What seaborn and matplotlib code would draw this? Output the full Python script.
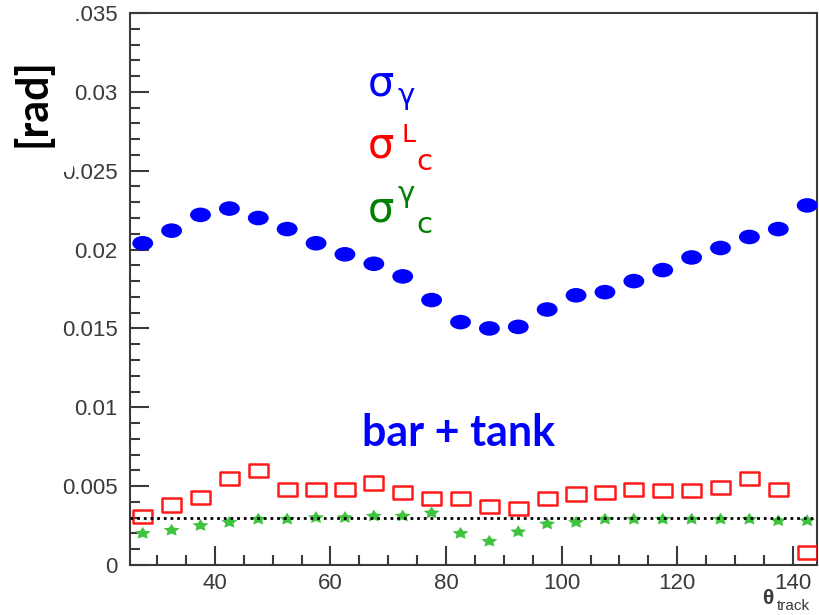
import numpy as np
import pandas as pd
import matplotlib
matplotlib.use("Agg")
import matplotlib.pyplot as plt
import seaborn as sns
from matplotlib.path import Path
from matplotlib.transforms import Affine2D
from matplotlib.patches import Rectangle
from matplotlib.ticker import MultipleLocator, FixedLocator, FixedFormatter

# ---------------- data ----------------
theta = [27.5, 32.5, 37.5, 42.5, 47.5, 52.5, 57.5, 62.5, 67.5, 72.5, 77.5, 82.5,
         87.5, 92.5, 97.5, 102.5, 107.5, 112.5, 117.5, 122.5, 127.5, 132.5, 137.5, 142.5]
sigma_gamma = [0.0204, 0.0212, 0.0222, 0.0226, 0.0220, 0.0213, 0.0204, 0.0197,
               0.0191, 0.0183, 0.0168, 0.0154, 0.0150, 0.0151, 0.0162, 0.0171,
               0.0173, 0.0180, 0.0187, 0.0195, 0.0201, 0.0208, 0.0213, 0.0228]
sigma_c_L = [0.0031, 0.0038, 0.0043, 0.0055, 0.0060, 0.0048, 0.0048, 0.0048,
             0.0052, 0.0046, 0.0042, 0.0042, 0.0037, 0.0036, 0.0042, 0.0045,
             0.0046, 0.0048, 0.0047, 0.0047, 0.0049, 0.0055, 0.0048, 0.0008]
sigma_c_gamma = [0.0020, 0.0022, 0.0025, 0.0027, 0.0029, 0.0029, 0.0030, 0.0030,
                 0.0031, 0.0031, 0.0033, 0.0020, 0.0015, 0.0021, 0.0026, 0.0027,
                 0.0029, 0.0029, 0.0029, 0.0029, 0.0029, 0.0029, 0.0028, 0.0028]
ref_level = 0.003
y_ticks = [0, 0.005, 0.01, 0.015, 0.02, 0.025, 0.03, 0.035]
y_tick_labels = ["0", "0.005", "0.01", "0.015", "0.02", "0.025", "0.03", "0.035"]
x_ticks = [40, 60, 80, 100, 120, 140]
x_tick_labels = ["40", "60", "80", "100", "120", "140"]

df = pd.DataFrame({"theta": theta, "sigma_gamma": sigma_gamma,
                   "sigma_c_L": sigma_c_L, "sigma_c_gamma": sigma_c_gamma})

# ---------------- style ----------------
sns.set_style("ticks")
plt.rcParams['font.family'] = ['Liberation Sans', 'DejaVu Sans']

W, H = 819, 615
fig = plt.figure(figsize=(W / 100, H / 100), dpi=100)
ax = fig.add_axes([130 / W, 50 / H, 687 / W, 552 / H])

ellipse = Path.unit_circle().transformed(Affine2D().scale(1.43, 1.0))
rect = Path([(-1.45, -1), (1.45, -1), (1.45, 1), (-1.45, 1), (-1.45, -1)],
            [Path.MOVETO, Path.LINETO, Path.LINETO, Path.LINETO, Path.CLOSEPOLY])
star = Path.unit_regular_star(5, 0.5).transformed(Affine2D().scale(1.3, 1.0))

ax.axhline(ref_level, color="black", linestyle=(0, (1, 1.4)), linewidth=2, zorder=4)

sns.scatterplot(data=df, x="theta", y="sigma_gamma", marker=ellipse, s=225,
                color="#0000ff", edgecolor="none", linewidth=0, ax=ax, zorder=3)
sns.scatterplot(data=df, x="theta", y="sigma_c_L", marker=rect, s=190,
                facecolor="none", edgecolor="#ff1a1a", linewidth=1.8, ax=ax, zorder=3)
sns.scatterplot(data=df, x="theta", y="sigma_c_gamma", marker=star, s=135,
                color="#40c440", edgecolor="none", linewidth=0, ax=ax, zorder=3)

ax.set_xlim(25.3, 144.2)
ax.set_ylim(0, 0.035)
ax.set_xlabel("")
ax.set_ylabel("")

ax.xaxis.set_major_locator(FixedLocator(x_ticks))
ax.xaxis.set_major_formatter(FixedFormatter(x_tick_labels))
ax.xaxis.set_minor_locator(MultipleLocator(5))
ax.yaxis.set_major_locator(FixedLocator(y_ticks))
ax.yaxis.set_major_formatter(FixedFormatter(y_tick_labels))
ax.yaxis.set_minor_locator(MultipleLocator(0.001))

tick_col = "#3a3a3a"
ax.tick_params(which="major", direction="in", length=14, width=1.5, color=tick_col,
               labelsize=16, labelcolor=tick_col)
ax.tick_params(which="minor", direction="in", length=7, width=1.5, color=tick_col)
ax.tick_params(axis="x", which="major", pad=6)
ax.tick_params(axis="y", which="major", pad=9)
for s in ax.spines.values():
    s.set_color(tick_col)
    s.set_linewidth(1.5)

def px(x, y):
    return x / W, 1 - y / H

# white box (covering tick-label edges, as in the reference) and [rad] label
fig.add_artist(Rectangle((0, 1 - 172 / H), 73 / W, 172 / H, transform=fig.transFigure,
                         facecolor="white", edgecolor="none", zorder=5))
fig.add_artist(Rectangle((0, 1 - 30 / H), 76 / W, 30 / H, transform=fig.transFigure,
                         facecolor="white", edgecolor="none", zorder=5))
fig.text(*px(32, 103), "[rad]", rotation=90, ha="center", va="center",
         fontsize=31, fontweight="bold", family=["Lato", "DejaVu Sans"],
         color="black", zorder=6)

# legend-like labels
blue, red, green = "#0000ff", "#ff0000", "#008000"
sig_fs, sub_fs = 30, 21
fig.text(*px(368, 96), "σ", color=blue, fontsize=sig_fs, ha="left", va="baseline",
         family=["DejaVu Sans"])
fig.text(*px(398, 104), "γ", color=blue, fontsize=sub_fs, ha="left", va="baseline",
         family=["DejaVu Sans"])
fig.text(*px(368, 157), "σ", color=red, fontsize=sig_fs, ha="left", va="baseline",
         family=["DejaVu Sans"])
fig.text(*px(401, 142), "L", color=red, fontsize=18, ha="left", va="baseline",
         family=["DejaVu Sans"])
fig.text(*px(416, 170), "c", color=red, fontsize=sub_fs, ha="left", va="baseline",
         family=["DejaVu Sans"])
fig.text(*px(368, 221), "σ", color=green, fontsize=sig_fs, ha="left", va="baseline",
         family=["DejaVu Sans"])
fig.text(*px(398, 202), "γ", color=green, fontsize=sub_fs, ha="left", va="baseline",
         family=["DejaVu Sans"])
fig.text(*px(416, 233), "c", color=green, fontsize=sub_fs, ha="left", va="baseline",
         family=["DejaVu Sans"])

fig.text(*px(362, 446), "bar + tank", color=blue, fontsize=31, fontweight="bold",
         ha="left", va="baseline", family=["Lato", "DejaVu Sans"])

# x-axis title
fig.text(*px(762, 604), "θ", color=tick_col, fontsize=15, fontweight="bold",
         ha="left", va="baseline")
fig.text(*px(777, 610), "track", color=tick_col, fontsize=11, ha="left", va="baseline")

fig.savefig("out.png", dpi=100)
